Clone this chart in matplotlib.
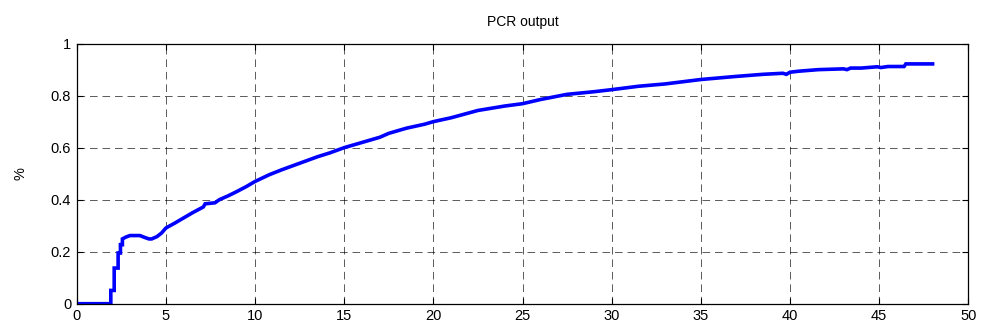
import matplotlib
matplotlib.use("Agg")
import matplotlib.pyplot as plt

plt.rcParams["font.family"] = ["Liberation Sans", "DejaVu Sans"]
plt.rcParams["lines.scale_dashes"] = False

# PCR output over time
time = [0, 1.91, 1.91, 2.10, 2.10, 2.32, 2.32, 2.45, 2.45, 2.56, 2.56,
        2.75, 2.98, 3.54, 3.80, 4.05, 4.20, 4.50, 4.76, 5.0, 5.5, 6.0,
        6.5, 7.1, 7.2, 7.75, 8.0, 8.5, 9.0, 9.5, 10.0, 10.8, 11.5, 12.5,
        13.5, 14.2, 15.0, 16.0, 17.0, 17.5, 18.5, 19.5, 20.0, 21.0, 22.5,
        24.0, 25.0, 26.0, 27.5, 29.0, 30.0, 31.5, 33.0, 35.0, 37.0, 38.5,
        39.6, 39.8, 40.0, 40.5, 41.6, 43.0, 43.2, 43.4, 44.0, 44.9, 45.1,
        45.5, 46.4, 46.5, 48.0]
pcr = [0, 0, 0.051, 0.051, 0.137, 0.137, 0.195, 0.195, 0.227, 0.227, 0.249,
       0.256, 0.262, 0.262, 0.255, 0.249, 0.249, 0.258, 0.272, 0.291, 0.310, 0.330,
       0.350, 0.372, 0.384, 0.388, 0.400, 0.415, 0.432, 0.450, 0.470, 0.496, 0.515, 0.540,
       0.565, 0.580, 0.600, 0.620, 0.640, 0.655, 0.675, 0.690, 0.700, 0.715, 0.743,
       0.760, 0.769, 0.785, 0.805, 0.815, 0.823, 0.836, 0.845, 0.862, 0.874, 0.882,
       0.886, 0.882, 0.890, 0.894, 0.900, 0.903, 0.900, 0.906, 0.906, 0.911, 0.908,
       0.912, 0.912, 0.922, 0.922]

xticks = list(range(0, 51, 5))
yticks = [0, 0.2, 0.4, 0.6, 0.8, 1]
ytick_labels = ["0", "0.2", "0.4", "0.6", "0.8", "1"]

fig = plt.figure(figsize=(9.84, 3.33), dpi=100)
ax = fig.add_axes([0.078, 0.088, 0.906, 0.781])

ax.plot(time, pcr, color="#0000ff", linewidth=2.6, solid_joinstyle="miter")

ax.set_xlim(0, 50)
ax.set_ylim(0, 1)
ax.set_xticks(xticks)
ax.set_yticks(yticks)
ax.set_yticklabels(ytick_labels)
ax.tick_params(direction="in", top=True, right=True, length=4, width=0.8,
               labelsize=10.5, pad=4)
ax.grid(True, color="black", linestyle=(0, (5.5, 3.5)), linewidth=0.6, alpha=0.75)
for sp in ax.spines.values():
    sp.set_linewidth(0.9)

ax.set_title("PCR output", fontsize=10, pad=13)
ax.set_ylabel("%", fontsize=10.5, labelpad=17)

fig.savefig("out.png", dpi=100)
